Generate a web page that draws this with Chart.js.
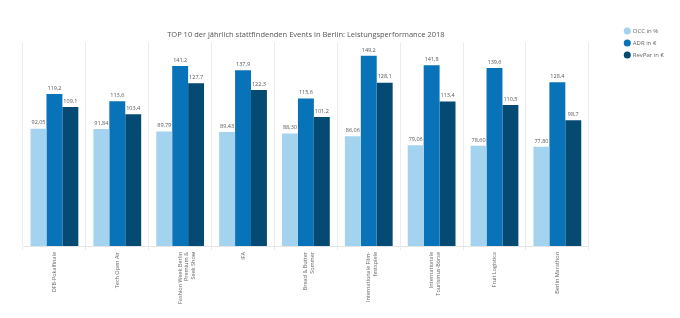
<!DOCTYPE html>
<html>
<head>
<meta charset="utf-8">
<script src="https://cdn.jsdelivr.net/npm/chart.js@4"></script>
<style>
  body { margin: 0; background: #fff; }
  #wrap { width: 680px; height: 318px; }
</style>
</head>
<body>
<div id="wrap"><canvas id="chart" width="680" height="318"></canvas></div>
<script>
// Categories (x axis)
const events = [
    'DFB-Pokalfinale',
    'Tech Open Air',
    ['Fashion Week Berlin', 'Premium &', 'Seek Show'],
    'IFA',
    ['Bread & Butter', 'Sommer'],
    ['Internationale Film-', 'festspiele'],
    ['Internationale', 'Tourismus-Börse'],
    'Fruit Logistica',
    'Berlin Marathon'
];

// Series values
const occValues    = [92.05, 91.84, 89.79, 89.43, 88.30, 86.06, 79.06, 78.60, 77.80];
const adrValues    = [119.2, 113.6, 141.2, 137.9, 115.6, 149.2, 141.8, 139.6, 128.4];
const revparValues = [109.1, 103.4, 127.7, 122.3, 101.2, 128.1, 113.4, 110.5, 98.7];

const seriesNames = ['OCC in %', 'ADR in €', 'RevPar in €'];
const chartTitle = 'TOP 10 der jährlich stattfindenden Events in Berlin: Leistungsperformance 2018';

const FONT = '"Open Sans", "DejaVu Sans", sans-serif';

// Value labels above each bar, German decimal comma
const valueLabels = {
    id: 'valueLabels',
    afterDatasetsDraw: function(chart) {
        const ctx = chart.ctx;
        ctx.save();
        ctx.font = '5.5px ' + FONT;
        ctx.fillStyle = '#555';
        ctx.textAlign = 'center';
        ctx.textBaseline = 'bottom';
        chart.data.datasets.forEach(function(ds, i) {
            const digits = i === 0 ? 2 : 1;
            chart.getDatasetMeta(i).data.forEach(function(bar, j) {
                const txt = ds.data[j].toFixed(digits).replace('.', ',');
                ctx.fillText(txt, bar.x, bar.y - 3);
            });
        });
        ctx.restore();
    }
};

new Chart(document.getElementById('chart'), {
    type: 'bar',
    data: {
        labels: events,
        datasets: [
            { label: seriesNames[0], data: occValues, backgroundColor: '#a3d3ee' },
            { label: seriesNames[1], data: adrValues, backgroundColor: '#0873b9' },
            { label: seriesNames[2], data: revparValues, backgroundColor: '#054a73' }
        ]
    },
    options: {
        responsive: false,
        animation: false,
        layout: { padding: { left: 23, top: 22, right: 6, bottom: 0 } },
        datasets: {
            bar: { barPercentage: 1, categoryPercentage: 0.76 }
        },
        plugins: {
            title: {
                display: true,
                text: chartTitle,
                fullSize: false,
                color: '#555',
                font: { family: FONT, size: 7.5, weight: 'normal' },
                padding: { top: 8, bottom: 3 }
            },
            legend: {
                position: 'right',
                align: 'start',
                labels: {
                    usePointStyle: true,
                    pointStyle: 'circle',
                    boxWidth: 5,
                    boxHeight: 5,
                    padding: 6,
                    color: '#666',
                    font: { family: FONT, size: 6 }
                }
            },
            tooltip: { enabled: false }
        },
        scales: {
            x: {
                grid: { color: '#ececec', offset: true, tickLength: 4 },
                border: { color: '#e4e4e4' },
                ticks: {
                    color: '#666',
                    font: { family: FONT, size: 5.5 },
                    minRotation: 90,
                    maxRotation: 90,
                    autoSkip: false,
                    padding: 2
                },
                afterFit: function(scale) { scale.height = 72; }
            },
            y: {
                position: 'right',
                min: 0,
                max: 160,
                grid: { display: false },
                border: { display: false },
                ticks: { display: false },
                afterFit: function(scale) { scale.width = 30; }
            }
        }
    },
    plugins: [valueLabels]
});
</script>
</body>
</html>
